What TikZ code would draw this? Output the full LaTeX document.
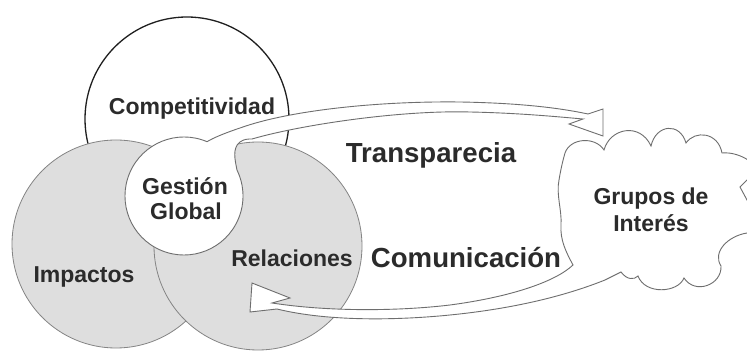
\documentclass[tikz,border=0pt]{standalone}
\usepackage{fontspec}
\setmainfont{Liberation Sans}
\definecolor{circgray}{HTML}{DEDEDE}
\definecolor{linegray}{HTML}{6E6E6E}
\definecolor{txt}{HTML}{2B2B2B}
\begin{document}
\begin{tikzpicture}[x=1pt,y=-1pt,
  lbl/.style={text=txt,font=\fontsize{23}{25}\selectfont\bfseries,anchor=base,inner sep=0pt},
  biglbl/.style={lbl,font=\fontsize{27.6}{30}\selectfont\bfseries},
  topcirc/.style={fill=white,draw=black!88,line width=1.3pt},
  graycirc/.style={fill=circgray,draw=linegray!85,line width=0.8pt},
  outlined/.style={fill=white,draw=linegray,line width=0.9pt,line join=miter}]
\useasboundingbox (0,0) rectangle (747,352);
\clip (0,0) rectangle (747,352);
\fill[white] (0,0) rectangle (747,352);
% circles
\draw[topcirc] (187,119) circle[radius=102];
\draw[graycirc] (116,244) circle[radius=104];
\draw[graycirc] (258,246) circle[radius=104];
% Gestion circle merged with upper arrow
\draw[outlined] (207.05,141.69) arc[start angle=-67, end angle=-386, radius=59]
  .. controls (235,160) and (232,148) .. (240,142)
  .. controls (244,139) and (248,139) .. (252,139)
  .. controls (300,125) and (400,110) .. (470,112)
  .. controls (520,113) and (560,117) .. (583,119)
  -- (569,124) -- (603,136) -- (603,109) -- (588,114)
  .. controls (560,108) and (520,103) .. (460,102)
  .. controls (380,101) and (290,110) .. (240,128)
  .. controls (225,133) and (213,138) .. cycle;
% cloud merged with lower arrow
\draw[outlined] (573,265)
  .. controls (566,252) and (560,240) .. (561,225)
  .. controls (562,210) and (556,195) .. (559,180)
  .. controls (561,168) and (563,160) .. (565,153)
  .. controls (570,138) and (595,136) .. (604,150)
  .. controls (610,128) and (640,122) .. (651,146)
  .. controls (656,124) and (680,122) .. (686,143)
  .. controls (695,130) and (718,132) .. (722,153)
  .. controls (732,152) and (742,156) .. (748,160)
  -- (760,160) -- (760,167) -- (754,173) -- (740,187) -- (754,213)
  -- (760,220) -- (760,233) -- (747,233)
  .. controls (728,236) and (712,252) .. (721,266)
  .. controls (722,285) and (695,295) .. (684,278)
  .. controls (678,293) and (645,295) .. (638,276)
  .. controls (634,280) and (627,280) .. (621,272)
  -- (605,280)
  .. controls (570,294) and (520,308) .. (450,315)
  .. controls (400,320) and (330,322) .. (277,309)
  -- (250,312) -- (252,283) -- (290,298) -- (272,303)
  .. controls (330,312) and (400,311) .. (450,305)
  .. controls (510,297) and (555,282) .. cycle;
% labels
\node[lbl] (comp) at (192,115) {Competitividad};
\node[lbl] (gest1) at (185,195) {Gestión};
\node[lbl] (gest2) at (186,220) {Global};
\node[lbl] (imp) at (84,283) {Impactos};
\node[lbl] (rel) at (292,267) {Relaciones};
\node[biglbl] (transp) at (431,163) {Transparecia};
\node[biglbl] (comun) at (466,268) {Comunicación};
\node[lbl] (grupos1) at (651,205) {Grupos de};
\node[lbl] (grupos2) at (651,232) {Interés};
\end{tikzpicture}
\end{document}
